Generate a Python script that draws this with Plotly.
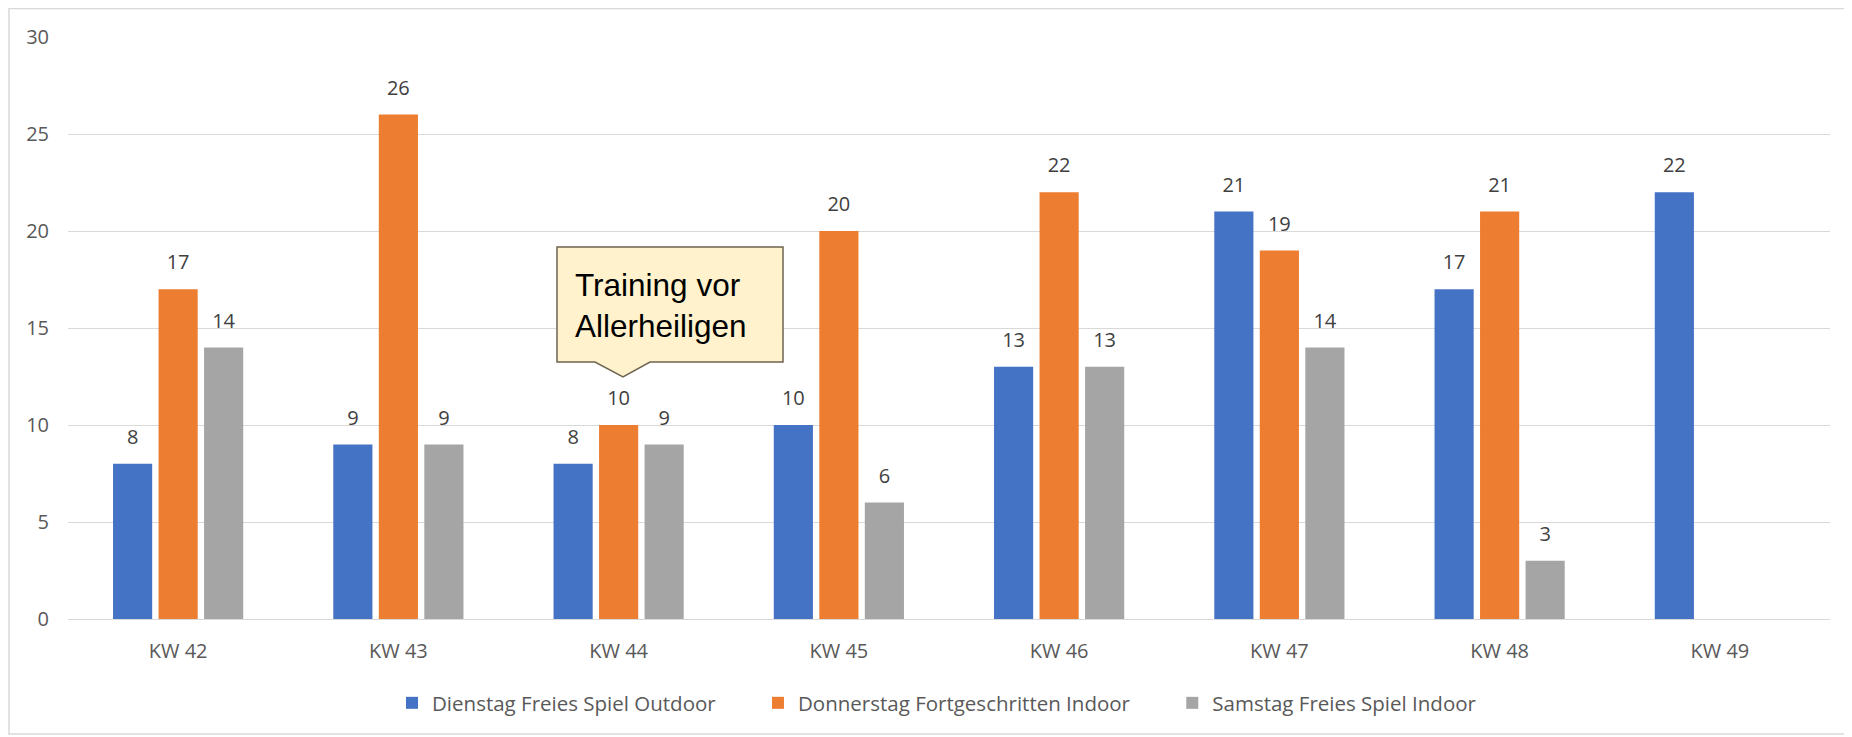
import plotly.graph_objects as go

categories = ["KW 42", "KW 43", "KW 44", "KW 45", "KW 46", "KW 47", "KW 48", "KW 49"]
dienstag = [8, 9, 8, 10, 13, 21, 17, 22]
donnerstag = [17, 26, 10, 20, 22, 19, 21, None]
samstag = [14, 9, 9, 6, 13, 14, 3, None]

series_names = ["Dienstag Freies Spiel Outdoor", "Donnerstag Fortgeschritten Indoor", "Samstag Freies Spiel Indoor"]
series_values = [dienstag, donnerstag, samstag]
series_colors = ["#4472C4", "#ED7D31", "#A5A5A5"]
legend_pad = [7, 7, 0]

y_ticks = [0, 5, 10, 15, 20, 25, 30]
callout_text = "Training vor<br>Allerheiligen"

# the page body has an 8px margin; work in page coordinates and subtract it
OFF = 8
W, H = 1852 - OFF, 737 - OFF
L, T = 68 - OFF, 37 - OFF
PR, PB = 1830 - OFF, 619 - OFF
pw, ph = PR - L, PB - T

def px(x):
    return (x - OFF - L) / pw

def py(y):
    return (PB - (y - OFF)) / ph

fig = go.Figure()
for i, (name, vals, col, pad) in enumerate(zip(series_names, series_values, series_colors, legend_pad)):
    fig.add_trace(go.Bar(
        x=categories, y=vals, name=name + "\u00a0" * pad,
        marker=dict(color=col, line=dict(width=0)),
        offsetgroup=str(i), alignmentgroup="a",
        hoverinfo="x+y",
    ))
for i, vals in enumerate(series_values):
    fig.add_trace(go.Scatter(
        x=categories, y=vals, mode="markers+text",
        text=[("" if v is None else str(v)) for v in vals],
        textposition="top center",
        textfont=dict(family="Open Sans", size=20, color="#404040"),
        marker=dict(size=22, opacity=0),
        offsetgroup=str(i), alignmentgroup="a",
        showlegend=False, hoverinfo="skip", cliponaxis=False,
    ))

# chart frame
fig.add_shape(type="rect", xref="paper", yref="paper",
              x0=px(9), x1=px(1846), y0=py(734), y1=py(8.5),
              line=dict(color="#D9D9D9", width=1.5), fillcolor="rgba(0,0,0,0)", layer="below")

# callout
bx0, bx1, by0, by1 = 557, 783, 247, 362
tipx, tipy = 623, 377
b1, b2 = 595, 650
path = (f"M {px(bx0)},{py(by0)} L {px(bx1)},{py(by0)} L {px(bx1)},{py(by1)} "
        f"L {px(b2)},{py(by1)} L {px(tipx)},{py(tipy)} L {px(b1)},{py(by1)} "
        f"L {px(bx0)},{py(by1)} Z")
fig.add_shape(type="path", xref="paper", yref="paper", path=path,
              fillcolor="#FFF2CC", line=dict(color="#6E6450", width=1.5), layer="above")
fig.add_annotation(xref="paper", yref="paper", x=px(573), y=py(305),
                   xanchor="left", yanchor="middle", align="left", showarrow=False,
                   text=callout_text,
                   font=dict(family="Liberation Sans, Arial", size=31.5, color="#000000"))

fig.update_layout(
    width=W, height=H,
    margin=dict(l=L, r=W - PR, t=T, b=H - PB, autoexpand=False),
    paper_bgcolor="white", plot_bgcolor="white",
    barmode="group", bargap=0.38, bargroupgap=0.14,
    scattermode="group", scattergap=0.38,
    showlegend=True,
    legend=dict(orientation="h", x=px(392), xanchor="left", y=py(703), yanchor="middle",
                font=dict(family="Open Sans", size=20.5, color="#595959"),
                itemwidth=30, traceorder="normal"),
    font=dict(family="Open Sans", color="#595959"),
)
fig.update_xaxes(type="category", showgrid=False, showline=False, ticks="",
                 tickfont=dict(family="Open Sans", size=20, color="#595959"), ticklabelstandoff=18)
fig.update_yaxes(range=[0, 30], tickvals=y_ticks, showgrid=True, gridcolor="#D9D9D9", gridwidth=1,
                 zeroline=True, zerolinecolor="#D9D9D9", zerolinewidth=1,
                 showline=False, ticks="",
                 tickfont=dict(family="Open Sans", size=20, color="#595959"), ticklabelstandoff=18)

fig.write_html("out.html")
